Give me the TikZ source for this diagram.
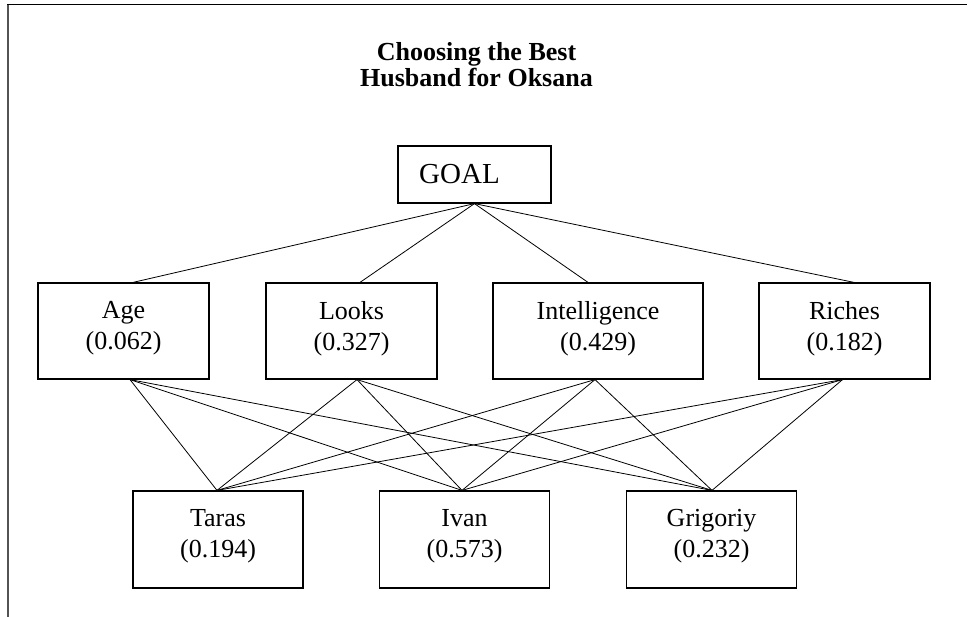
\documentclass[tikz,border=0pt]{standalone}
\usepackage{fontspec}
\setmainfont{Liberation Serif}
\begin{document}
\begin{tikzpicture}[x=1pt,y=-1pt,
  box/.style={draw, line width=1.2pt, inner sep=0pt},
  crit/.style={box, minimum width=171pt, minimum height=96pt},
  alt/.style={box, minimum width=170pt, minimum height=97pt},
  lbl/.style={align=center, anchor=north, inner sep=0pt, font=\fontsize{26}{31}\selectfont},
  link/.style={line width=0.8pt}]
\useasboundingbox (0,0) rectangle (967,617);
% frame
\draw[line width=2pt, black!67] (7.5,4) -- (7.5,617);
\draw[line width=1.6pt] (7,4.5) -- (967,4.5);
% title
\node[align=center, anchor=north, inner sep=0pt, font=\fontsize{26}{26}\selectfont\bfseries] (title) at (476.5,42) {Choosing the Best\\Husband for Oksana};
% goal
\node[box, minimum width=153pt, minimum height=57pt] (goal) at (474.5,174.5) {};
\node[anchor=base west, inner sep=0pt, font=\fontsize{29}{34}\selectfont] (goaltxt) at (419,184) {GOAL};
% criteria
\node[crit] (age) at (123.5,331) {};
\node[lbl] (agetxt) at (123.5,301) {Age\\(0.062)};
\node[crit] (looks) at (351.5,331) {};
\node[lbl] (lookstxt) at (351.5,301) {Looks\\(0.327)};
\node[crit, minimum width=210pt] (intel) at (598,331) {};
\node[lbl] (inteltxt) at (598,301) {Intelligence\\(0.429)};
\node[crit] (rich) at (844.5,331) {};
\node[lbl] (richtxt) at (844.5,301) {Riches\\(0.182)};
% alternatives
\node[alt] (taras) at (218,539.5) {};
\node[lbl] (tarastxt) at (218,509) {Taras\\(0.194)};
\node[alt] (ivan) at (464.5,539.5) {};
\node[lbl] (ivantxt) at (464.5,509) {Ivan\\(0.573)};
\node[alt] (grig) at (711.5,539.5) {};
\node[lbl] (grigtxt) at (711.5,509) {Grigoriy\\(0.232)};
% goal links
\draw[link] (goal.south) -- ([xshift=9.5pt]age.north);
\draw[link] (goal.south) -- ([xshift=8.5pt]looks.north);
\draw[link] (goal.south) -- ([xshift=-10pt]intel.north);
\draw[link] (goal.south) -- ([xshift=9.5pt]rich.north);
% criteria to alternatives
\foreach \c/\s in {age/6.5, looks/5.5, intel/-3, rich/-2}{
  \foreach \a/\t in {taras/-1, ivan/-2.5, grig/0.5}{
    \draw[link] ([xshift=\s pt]\c.south) -- ([xshift=\t pt]\a.north);
  }
}
\end{tikzpicture}
\end{document}
